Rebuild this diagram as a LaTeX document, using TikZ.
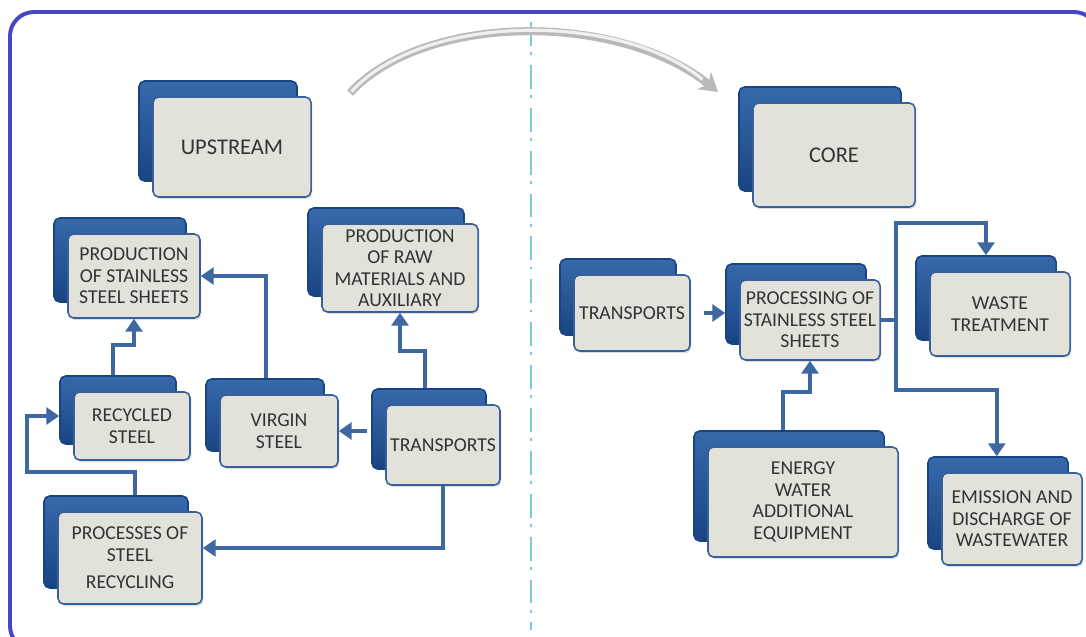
\documentclass[tikz,border=0pt]{standalone}
\usepackage{fontspec}
\setmainfont{Carlito}
\usetikzlibrary{positioning, shadows, arrows.meta}

\definecolor{framecol}{RGB}{70,70,200}
\definecolor{boxfill}{RGB}{226,226,219}
\definecolor{boxline}{RGB}{55,95,155}
\definecolor{backtop}{RGB}{55,105,170}
\definecolor{backbot}{RGB}{25,68,132}
\definecolor{flowcol}{RGB}{62,104,162}
\definecolor{sepcol}{RGB}{125,200,218}

\begin{document}
\begin{tikzpicture}[x=0.025cm, y=-0.025cm,
    stage/.style={draw=boxline, line width=1.1pt, fill=boxfill, rounded corners=4pt,
      inner sep=0pt, align=center, text=black!80,
      font=\fontsize{14}{15.3}\selectfont,
      drop shadow={shadow xshift=1pt, shadow yshift=-1.5pt, opacity=0.25},
      copy shadow={shadow xshift=-0.35cm, shadow yshift=0.4cm, draw=backbot,
        top color=backtop, bottom color=backbot, rounded corners=5pt}},
    flow/.style={draw=flowcol, line width=3.2pt, -{Triangle[length=0.32cm, width=0.42cm]}}]
            \useasboundingbox (0,0) rectangle (1086,637);
            \draw [framecol, line width=2.8pt, rounded corners=0.6cm] (10,12) rectangle (1098,650);
            \draw [sepcol, line width=1.8pt, dash pattern=on 17pt off 4.5pt on 2pt off 7pt] (531,22) -- (531,630);

            % upstream side
            \node [stage, minimum width=3.95cm, minimum height=2.5cm, font=\fontsize{16}{18}\selectfont] (upstream) at (232,147) {UPSTREAM};
            \node [stage, minimum width=3.3cm, minimum height=2.1cm] (sheets) at (134,276) {PRODUCTION\\OF STAINLESS\\STEEL SHEETS};
            \node [stage, minimum width=3.9cm, minimum height=2.2cm] (raw) at (400,268) {PRODUCTION\\OF RAW\\MATERIALS AND\\AUXILIARY};
            \node [stage, minimum width=2.9cm, minimum height=1.7cm] (recycled) at (132,426) {RECYCLED\\STEEL};
            \node [stage, minimum width=2.95cm, minimum height=1.8cm] (virgin) at (279,431) {VIRGIN\\STEEL};
            \node [stage, minimum width=2.85cm, minimum height=2cm] (transp) at (443,445) {TRANSPORTS};
            \node [stage, minimum width=3.6cm, minimum height=2.3cm] (recycling) at (130,558) {PROCESSES OF\\STEEL\\[4pt]RECYCLING};

            % core side
            \node [stage, minimum width=4.05cm, minimum height=2.6cm, font=\fontsize{16}{18}\selectfont] (core) at (834,155) {CORE};
            \node [stage, minimum width=2.9cm, minimum height=1.9cm] (transpcore) at (632,313) {TRANSPORTS};
            \node [stage, minimum width=3.5cm, minimum height=2cm] (processing) at (810,320) {PROCESSING OF\\STAINLESS STEEL\\SHEETS};
            \node [stage, minimum width=3.5cm, minimum height=2.1cm] (waste) at (1000,314) {WASTE\\TREATMENT};
            \node [stage, minimum width=4.75cm, minimum height=2.75cm] (energy) at (803,502) {ENERGY\\WATER\\ADDITIONAL\\EQUIPMENT};
            \node [stage, minimum width=3.5cm, minimum height=2.3cm] (emission) at (1012,519) {EMISSION AND\\DISCHARGE OF\\WASTEWATER};

            % from upstream to core
            \coordinate (arcL) at (350,93);
            \coordinate (arcR) at (718,92);
            \draw [gray!55, line width=0.2cm, -{Stealth[length=0.45cm, width=0.55cm]}] (arcL) .. controls (425,12) and (620,12) .. (arcR);
            \draw [gray!12, line width=0.08cm, shorten >=0.5cm, shorten <=0.05cm] (arcL) .. controls (425,12) and (620,12) .. (arcR);

            \draw [flow] ([xshift=-0.48cm, yshift=0.4cm]recycled.north) -- ++(0,-30) -| (sheets.south);
            \draw [flow] ([xshift=-0.33cm, yshift=0.4cm]virgin.north) |- (sheets.east);
            \draw [flow] ([xshift=-0.45cm, yshift=0.4cm]transp.north) -- ++(0,-37) -| (raw.south);
            \draw [flow, shorten <=0.45cm] (transp.west |- virgin.east) -- (virgin.east);
            \draw [flow] (transp.south) |- ([yshift=0.25cm]recycling.east);
            \draw [flow] ([xshift=0.12cm, yshift=0.4cm]recycling.north) -- ++(0,-23) -- ++(-108,0) |- ([xshift=-0.35cm, yshift=0.25cm]recycled.west);
            \draw [flow, shorten <=0.32cm, shorten >=0.35cm] (transpcore.east) -- (transpcore.east -| processing.west);
            \draw [flow] ([xshift=-0.5cm, yshift=0.4cm]energy.north) -- ++(0,-38) -| (processing.south);
            \draw [flow] (processing.east) -- ++(15,0) -- ++(0,-97) -| ([xshift=-0.35cm, yshift=0.4cm]waste.north);
            \draw [flow] (processing.east) -- ++(15,0) -- ++(0,70) -| ([xshift=-0.38cm, yshift=0.4cm]emission.north);
          \end{tikzpicture}
\end{document}
